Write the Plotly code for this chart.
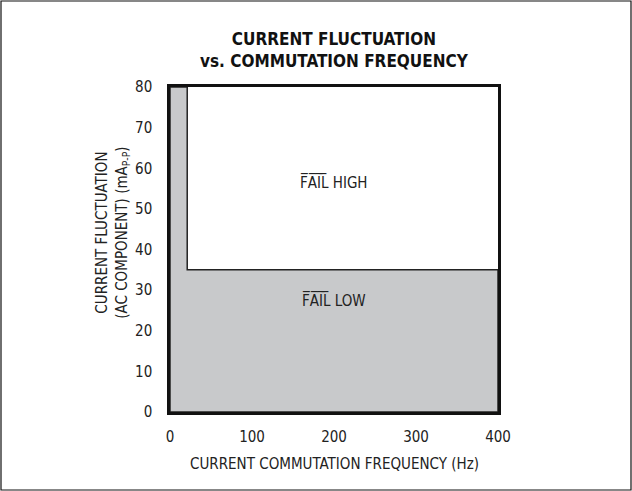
import plotly.graph_objects as go

# Data
boundary_freq = [0, 400, 400, 21, 21, 0, 0]      # Hz
boundary_curr = [0, 0, 35, 35, 80, 80, 0]        # mA p-p
x_ticks = [0, 100, 200, 300, 400]
y_ticks = [0, 10, 20, 30, 40, 50, 60, 70, 80]
region_labels = ["F\u0305A\u0305I\u0305L\u0305 HIGH", "F\u0305A\u0305I\u0305L\u0305 LOW"]
region_x = [200, 200]
region_y = [56.5, 27.5]

FONT = "DejaVu Sans Condensed, Liberation Sans Narrow, Arial Narrow, sans-serif"

fig = go.Figure()
fig.add_trace(go.Scatter(
    x=boundary_freq, y=boundary_curr, mode="lines", fill="toself",
    fillcolor="#c8c9cb", line=dict(color="#222222", width=1.5),
    hoverinfo="skip", showlegend=False))

for t, xv, yv in zip(region_labels, region_x, region_y):
    fig.add_annotation(x=xv, y=yv, text=t, showarrow=False,
                       font=dict(family=FONT, size=15, color="#222"))

fig.update_layout(
    width=632, height=491,
    margin=dict(l=170, r=134, t=87, b=79),
    paper_bgcolor="white", plot_bgcolor="white",
    font=dict(family=FONT, size=15, color="#222"),
    showlegend=False,
)
fig.update_xaxes(range=[0, 400], tickvals=x_ticks, ticks="", showgrid=False,
                 zeroline=False, showline=True, linecolor="#111", linewidth=2.5,
                 mirror=True, tickfont=dict(size=15), ticklabelstandoff=9)
fig.update_yaxes(range=[0, 80], tickvals=y_ticks, ticks="", showgrid=False,
                 zeroline=False, showline=True, linecolor="#111", linewidth=2.5,
                 mirror=True, tickfont=dict(size=15), ticklabelstandoff=12)

# Titles
fig.add_annotation(xref="paper", yref="paper", x=0.5, y=1.0, yshift=14,
                   yanchor="bottom", showarrow=False,
                   text="<b>CURRENT FLUCTUATION<br>vs. COMMUTATION FREQUENCY</b>",
                   font=dict(family=FONT, size=17, color="#111"))
fig.add_annotation(xref="paper", yref="paper", x=0.5, y=0, yshift=-41,
                   yanchor="top", showarrow=False,
                   text="CURRENT COMMUTATION FREQUENCY (Hz)",
                   font=dict(family=FONT, size=15, color="#222"))
fig.add_annotation(xref="paper", yref="paper", x=0, xshift=-36, y=0.55,
                   xanchor="right", yanchor="middle", showarrow=False, textangle=-90,
                   text="CURRENT FLUCTUATION<br>(AC COMPONENT) (mA<sub>P-P</sub>)",
                   font=dict(family=FONT, size=15, color="#222"))

# Outer frame of the figure
fig.add_shape(type="rect", xref="paper", yref="paper",
              x0=-170/328 + 1/328, x1=1 + 134/328 - 1/328,
              y0=-79/325 + 1/325, y1=1 + 87/325 - 1/325,
              line=dict(color="#111", width=1.2), layer="below")

fig.write_html("out.html", config={"displayModeBar": False},
               post_script="document.body.style.margin='0';document.body.style.overflow='hidden';")
